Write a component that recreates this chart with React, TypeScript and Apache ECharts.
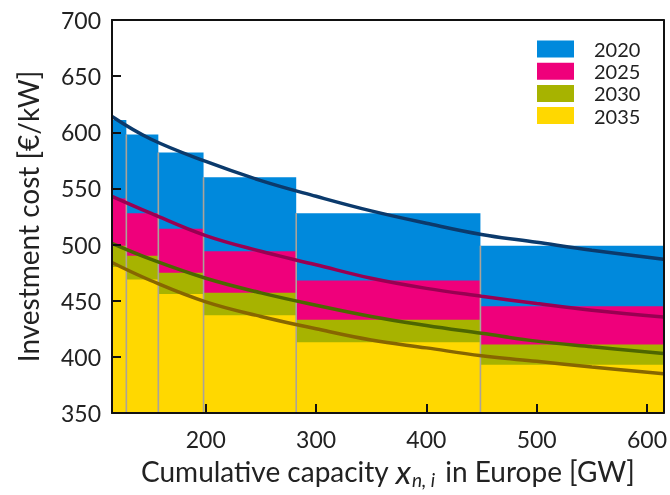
import React, { useEffect, useRef } from "react";
import * as echarts from "echarts";

// Segment boundaries on the cumulative-capacity axis [GW]
const segEdges = [115, 128, 157, 198, 282, 449, 615];
// Step (bar) investment cost levels per segment [€/kW]
const years = ["2020", "2025", "2030", "2035"];
const cost2020 = [611, 598, 582, 560, 528, 499];
const cost2025 = [541, 528, 514, 494, 468, 445];
const cost2030 = [499, 490, 475, 457, 433, 411];
const cost2035 = [480, 469, 456, 437, 413, 393];

// Fitted learning curves, read at these capacities
const curveX = [115, 150, 200, 250, 300, 350, 400, 450, 500, 550, 615];
const curve2020 = [614, 594, 574, 557, 543, 530, 519, 509, 502, 495, 487];
const curve2025 = [543, 528, 508, 494, 482, 470, 461, 454, 447.5, 441.5, 435.5];
const curve2030 = [501, 487, 470, 457, 446, 436, 428, 421, 414, 409, 403];
const curve2035 = [484, 468, 449, 436, 425, 415, 408, 401, 396, 391, 385];

const xTicks = [200, 300, 400, 500, 600];

const barColors = ["#0089dc", "#ef007b", "#a7b300", "#ffd800"];
const lineColors = ["#0b3a6c", "#990052", "#4d6600", "#876600"];

const FONT = "Lato";

export default function App() {
  const ref = useRef<HTMLDivElement>(null);

  useEffect(() => {
    if (!ref.current) return;
    const chart = echarts.init(ref.current, null, { renderer: "svg" });

    const costs = [cost2020, cost2025, cost2030, cost2035];
    const curves = [curve2020, curve2025, curve2030, curve2035];
    const Y0 = 350;

    const barSeries = years.map((name, k) => ({
      name,
      type: "custom",
      xAxisIndex: 0,
      yAxisIndex: 0,
      itemStyle: { color: barColors[k] },
      encode: { x: [0, 1], y: 2 },
      silent: true,
      data: costs[k].map((c, i) => [segEdges[i], segEdges[i + 1], c]),
      renderItem: (params: any, api: any) => {
        const p0 = api.coord([api.value(0), api.value(2)]);
        const p1 = api.coord([api.value(1), Y0]);
        return {
          type: "rect",
          shape: { x: p0[0], y: p0[1], width: p1[0] - p0[0], height: p1[1] - p0[1] },
          style: { fill: barColors[k] },
        };
      },
    }));

    const edgeSeries = {
      name: "edges",
      type: "custom",
      xAxisIndex: 0,
      yAxisIndex: 0,
      silent: true,
      encode: { x: 0, y: 1 },
      data: segEdges.slice(1, -1).map((x, i) => [x, cost2020[i + 1]]),
      renderItem: (params: any, api: any) => {
        const p0 = api.coord([api.value(0), api.value(1)]);
        const p1 = api.coord([api.value(0), Y0]);
        return {
          type: "line",
          shape: { x1: p0[0], y1: p0[1], x2: p1[0], y2: p1[1] },
          style: { stroke: "#aba398", lineWidth: 1.6 },
        };
      },
    };

    const lineSeries = curves.map((c, k) => ({
      name: "fit" + years[k],
      type: "line",
      xAxisIndex: 0,
      yAxisIndex: 0,
      smooth: 0.4,
      showSymbol: false,
      silent: true,
      z: 4,
      lineStyle: { color: lineColors[k], width: 3.5 },
      data: curveX.map((x, i) => [x, c[i]]),
    }));

    const frameLine = { show: true, onZero: false, lineStyle: { color: "#111", width: 2 } };

    chart.setOption({
      animation: false,
      textStyle: { fontFamily: FONT },
      grid: { left: 112, right: 6, top: 20, bottom: 82 },
      legend: {
        data: years,
        orient: "vertical",
        left: 537,
        top: 38,
        padding: 0,
        itemWidth: 37,
        itemHeight: 17,
        itemGap: 0.2,
        icon: "rect",
        selectedMode: false,
        textStyle: {
          fontFamily: FONT,
          fontSize: 20,
          color: "#222",
          padding: [0, 0, 0, 15],
          lineHeight: 22,
        },
      },
      xAxis: [
        {
          type: "value",
          min: 115,
          max: 615,
          position: "bottom",
          z: 10,
          axisLine: frameLine,
          axisTick: {
            show: true,
            inside: true,
            length: 9,
            lineStyle: { color: "#111", width: 2 },
            customValues: xTicks,
          },
          axisLabel: {
            customValues: xTicks,
            fontFamily: FONT,
            fontSize: 23,
            color: "#222",
            margin: 14,
          },
          splitLine: { show: false },
          name: "{t|Cumulative capacity }{x|x}{s|n, i}{t| in Europe [GW]}",
          nameLocation: "middle",
          nameGap: 32,
          nameTextStyle: {
            rich: {
              t: { fontFamily: FONT, fontSize: 28, color: "#222" },
              x: { fontFamily: FONT, fontSize: 33, fontStyle: "italic", color: "#222" },
              s: {
                fontFamily: FONT,
                fontSize: 19,
                fontStyle: "italic",
                color: "#222",
                padding: [16, 3, 0, 1],
              },
            },
          },
        },
        {
          type: "value",
          min: 115,
          max: 615,
          position: "top",
          z: 10,
          axisLine: frameLine,
          axisTick: { show: false },
          axisLabel: { show: false },
          splitLine: { show: false },
        },
      ],
      yAxis: [
        {
          type: "value",
          min: 350,
          max: 700,
          interval: 50,
          position: "left",
          z: 10,
          axisLine: frameLine,
          axisTick: { show: true, inside: true, length: 9, lineStyle: { color: "#111", width: 2 } },
          axisLabel: { fontFamily: FONT, fontSize: 23, color: "#222", margin: 11 },
          splitLine: { show: false },
          name: "Investment cost [€/kW]",
          nameLocation: "middle",
          nameGap: 70,
          nameTextStyle: { fontFamily: FONT, fontSize: 28, color: "#222" },
        },
        {
          type: "value",
          min: 350,
          max: 700,
          interval: 50,
          position: "right",
          z: 10,
          axisLine: frameLine,
          axisTick: { show: false },
          axisLabel: { show: false },
          splitLine: { show: false },
        },
      ],
      series: [...barSeries, edgeSeries, ...lineSeries],
    });

    return () => chart.dispose();
  }, []);

  return (
    <div
      ref={ref}
      style={{ position: "fixed", left: 0, top: 0, width: 670, height: 495 }}
    />
  );
}
